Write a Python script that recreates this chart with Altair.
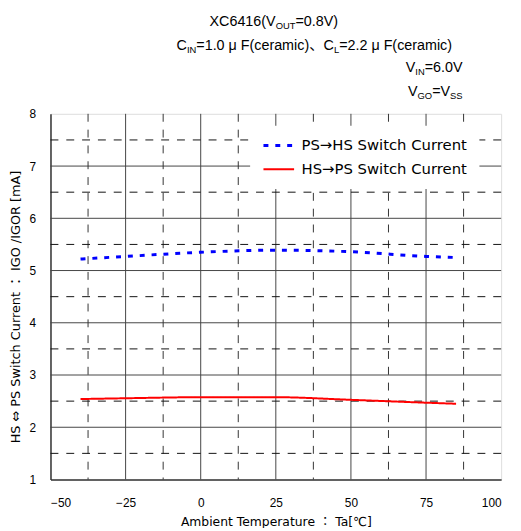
import altair as alt
import pandas as pd

# ---- data ----
temps = [-40, -25, 0, 25, 50, 75, 85]
ps_to_hs = [5.22, 5.27, 5.35, 5.39, 5.36, 5.27, 5.25]
hs_to_ps = [2.54, 2.555, 2.575, 2.575, 2.525, 2.47, 2.45]
series_names = ["PS→HS Switch Current", "HS→PS Switch Current"]

x_ticks = [-50, -25, 0, 25, 50, 75, 100]
y_ticks = [1, 2, 3, 4, 5, 6, 7, 8]
x_major_grid = [-25, 0, 25, 50, 75]
x_minor_grid = [-37.5, -12.5, 12.5, 37.5, 62.5, 87.5]
y_major_grid = [2, 3, 4, 5, 6, 7]
y_minor_grid = [1.5, 2.5, 3.5, 4.5, 5.5, 6.5, 7.5]

FONT = "Liberation Sans, Noto Sans CJK JP"
TFONT = "DejaVu Sans, Noto Sans CJK JP"
W, H = 456, 370

rows = []
for t, v in zip(temps, ps_to_hs):
    rows.append({"T": t, "I": v, "series": series_names[0]})
for t, v in zip(temps, hs_to_ps):
    rows.append({"T": t, "I": v, "series": series_names[1]})
df = pd.DataFrame(rows)

xscale = alt.Scale(domain=[-50, 100], nice=False, zero=False)
yscale = alt.Scale(domain=[1, 8], nice=False, zero=False)

base_x = alt.X("T:Q", scale=xscale, axis=alt.Axis(
    values=x_ticks, format="d", title="Ambient Temperature ： Ta[℃]", grid=False, ticks=False,
    labelFontSize=12, labelPadding=18, titleFontSize=12.5, titleFontWeight="normal",
    titlePadding=8, domainColor="#333333", domainWidth=1.5, labelColor="#000000",
    titleColor="#000000", labelFont=FONT, titleFont=TFONT))
base_y = alt.Y("I:Q", scale=yscale, axis=alt.Axis(
    values=y_ticks, format="d", title="HS ⇔ PS Switch Current ： IGO /IGOR [mA]", grid=False,
    ticks=False, labelFontSize=12, labelPadding=15, titleFontSize=13, titleFontWeight="normal",
    titlePadding=7, domainColor="#333333", domainWidth=1.5, labelColor="#000000",
    titleColor="#000000", labelFont=FONT, titleFont=TFONT, titleY=195))


def vrules(vals, color, dash=None):
    m = alt.Chart(pd.DataFrame({"T": vals})).mark_rule(color=color, strokeWidth=1,
                                                      **({"strokeDash": dash} if dash else {}))
    return m.encode(x=alt.X("T:Q", scale=xscale))


def hrules(vals, color, dash=None):
    m = alt.Chart(pd.DataFrame({"I": vals})).mark_rule(color=color, strokeWidth=1,
                                                      **({"strokeDash": dash} if dash else {}))
    return m.encode(y=alt.Y("I:Q", scale=yscale))


grid = [
    vrules(x_major_grid, "#444444"),
    hrules(y_major_grid, "#444444"),
    vrules(x_minor_grid, "#333333", [8, 8]),
    hrules(y_minor_grid, "#111111", [8, 8]),
]

leg = alt.Legend(title=None, orient="none", legendX=202, legendY=12, fillColor="white",
                 padding=12, labelFontSize=15, labelFont=TFONT, labelColor="#000000",
                 symbolType="stroke", symbolSize=961, symbolStrokeWidth=3,
                 clipHeight=16, rowPadding=8, labelOffset=6, labelLimit=400)

lines = alt.Chart(df).mark_line(interpolate="monotone").encode(
    x=base_x,
    y=base_y,
    color=alt.Color("series:N", scale=alt.Scale(domain=series_names, range=["#0000ff", "#ff0000"]),
                    legend=leg, sort=series_names),
    strokeDash=alt.StrokeDash("series:N", scale=alt.Scale(domain=series_names, range=[[5, 7], [1, 0]]),
                              legend=leg, sort=series_names),
    strokeWidth=alt.StrokeWidth("series:N", scale=alt.Scale(domain=series_names, range=[3, 2]),
                                legend=None),
)

# ---- header annotation with sub-scripts, laid out piece by piece ----
ARIAL = {"X": 667, "C": 722, "6": 556, "4": 556, "1": 556, "(": 333, ")": 333, "V": 667,
         "O": 778, "U": 722, "T": 611, "=": 584, "0": 556, ".": 278, "8": 556, "I": 278,
         "N": 722, "μ": 576, "F": 611, "c": 500, "e": 556, "r": 333, "a": 556, "m": 833,
         "i": 222, "L": 556, "2": 556, "G": 778, "S": 667, " ": 278, "、": 1000}


def text_w(s, fs):
    return sum(ARIAL.get(ch, 556) for ch in s) * fs / 1000.0


MAIN, SUB = 14.5, 9.5
# each line: list of (text, is_subscript), anchor kind, anchor x (page px), baseline (page px)
header_lines = [
    ([("XC6416(V", 0), ("OUT", 1), ("=0.8V)", 0)], "center", 277, 23),
    ([("C", 0), ("IN", 1), ("=1.0 μ F(ceramic)、", 0), ("C", 0), ("L", 1),
      ("=2.2 μ F(ceramic)", 0)], "center", 318, 47),
    ([("V", 0), ("IN", 1), ("=6.0V", 0)], "right", 468, 70),
    ([("V", 0), ("GO", 1), ("=V", 0), ("SS", 1)], "right", 468, 94),
]
OX, OY = 51, 112
texts = []
for pieces, kind, ax, base in header_lines:
    widths = [text_w(s, SUB if sub else MAIN) for s, sub in pieces]
    total = sum(widths)
    x = ax - total / 2 if kind == "center" else ax - total
    for (s, sub), w in zip(pieces, widths):
        texts.append(alt.Chart(pd.DataFrame({"t": [s]})).mark_text(
            align="left", baseline="alphabetic", font=FONT, fontSize=SUB if sub else MAIN,
            color="#000000"
        ).encode(text="t:N", x=alt.value(x - OX), y=alt.value(base + (3 if sub else 0) - OY)))
        x += w

chart = alt.layer(*grid, lines, *texts).properties(
    width=W, height=H,
    autosize=alt.AutoSizeParams(type="none"),
    padding={"left": 43, "top": 104, "right": 12, "bottom": 46},
).configure_view(stroke="#888888", strokeWidth=1).configure(background="white")

chart.save("out.html", embed_options={"renderer": "svg", "actions": False})
